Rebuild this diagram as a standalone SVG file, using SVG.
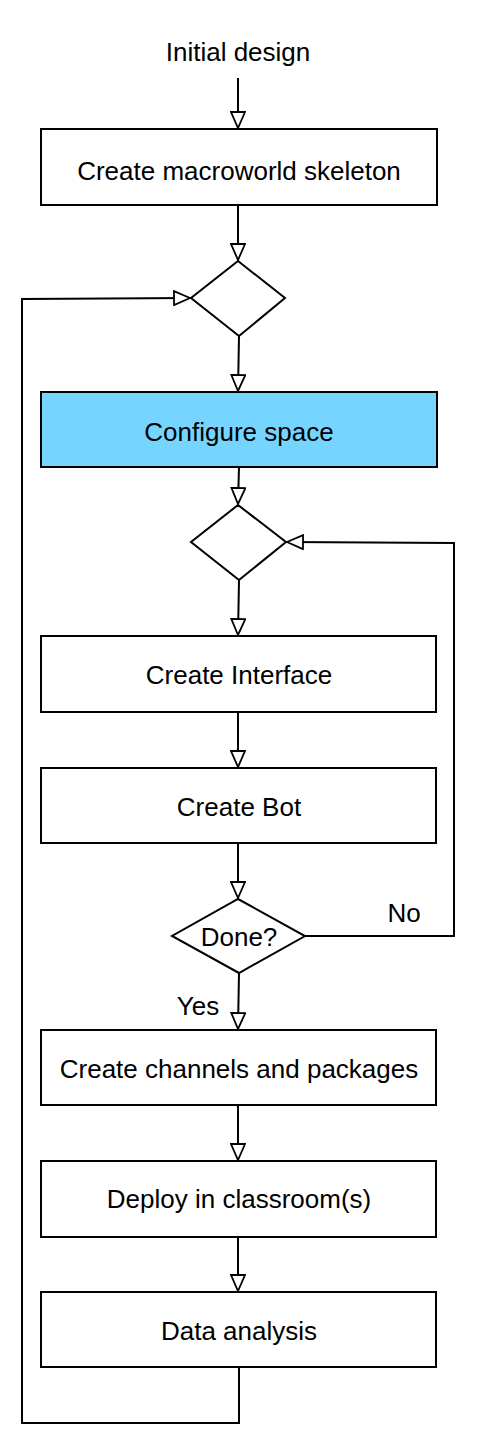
<svg xmlns="http://www.w3.org/2000/svg" width="477" height="1447" viewBox="0 0 477 1447">
<style>
.box{fill:#ffffff;stroke:#000000;stroke-width:2}
.blue{fill:#75d5ff}
.lbl{font-family:"Liberation Sans",Arial,sans-serif;font-size:26px;fill:#000000;text-anchor:middle}
.edge{fill:none;stroke:#000000;stroke-width:2;marker-end:url(#arr)}
</style>
<defs>
<marker id="arr" markerUnits="userSpaceOnUse" markerWidth="18" markerHeight="16" refX="16" refY="7" orient="auto" viewBox="-1 -1 18 16">
<path d="M0,0 L16,7 L0,14 Z" fill="#ffffff" stroke="#000000" stroke-width="1.8"/>
</marker>
</defs>
<rect width="477" height="1447" fill="#ffffff"/>
<g id="start"><text class="lbl" x="238" y="61">Initial design</text></g>
<g id="n1"><rect class="box" x="41" y="129" width="396" height="76"/><text class="lbl" x="239" y="180">Create macroworld skeleton</text></g>
<g id="d1"><polygon class="box" points="238,261 285,298 239,336 191,298"/></g>
<g id="n2"><rect class="box blue" x="41" y="392" width="396" height="75"/><text class="lbl" x="239" y="441">Configure space</text></g>
<g id="d2"><polygon class="box" points="238,505 286,542 239,580 191,542"/></g>
<g id="n3"><rect class="box" x="41" y="636" width="395" height="76"/><text class="lbl" x="239" y="684">Create Interface</text></g>
<g id="n4"><rect class="box" x="41" y="768" width="395" height="75"/><text class="lbl" x="239" y="816">Create Bot</text></g>
<g id="d3"><polygon class="box" points="238,899 305,936 239,973 172,936"/><text class="lbl" x="239" y="946">Done?</text></g>
<g id="n5"><rect class="box" x="41" y="1030" width="395" height="75"/><text class="lbl" x="239" y="1078">Create channels and packages</text></g>
<g id="n6"><rect class="box" x="41" y="1161" width="395" height="76"/><text class="lbl" x="239" y="1208">Deploy in classroom(s)</text></g>
<g id="n7"><rect class="box" x="41" y="1292" width="395" height="75"/><text class="lbl" x="239" y="1340">Data analysis</text></g>
<g id="connectors">
<path class="edge" d="M238,78 L238,128"/>
<path class="edge" d="M238,205 L238,260"/>
<path class="edge" d="M239,336 L238,391"/>
<path class="edge" d="M239,467 L238,504"/>
<path class="edge" d="M239,580 L238,635"/>
<path class="edge" d="M238,712 L238,767"/>
<path class="edge" d="M238,843 L238,898"/>
<path class="edge" d="M239,973 L238,1029"/>
<path class="edge" d="M238,1105 L238,1160"/>
<path class="edge" d="M238,1237 L238,1291"/>
<path class="edge" d="M239,1367 L239,1423 L22,1423 L22,299 L190,298"/>
<path class="edge" d="M305,936 L454,936 L454,543 L287,542"/>
<text class="lbl" x="404" y="922">No</text>
<text class="lbl" x="198" y="1015">Yes</text>
</g>
</svg>
